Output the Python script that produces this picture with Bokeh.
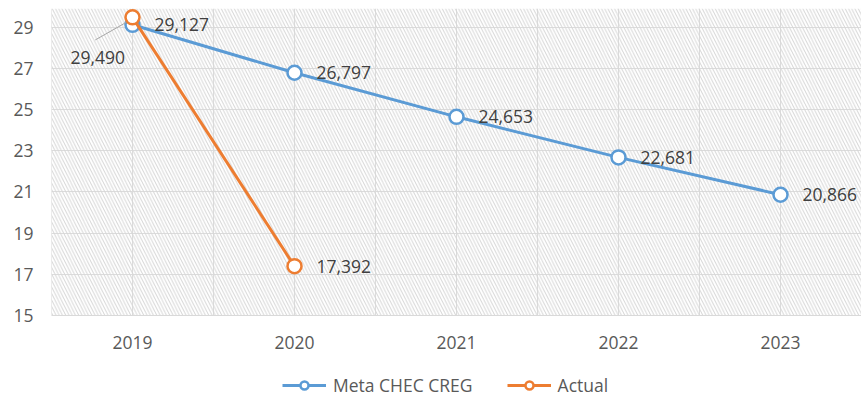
from bokeh.plotting import figure
from bokeh.models import (ColumnDataSource, LabelSet, BoxAnnotation, FixedTicker,
                          Legend, Range1d, Segment)
from bokeh.embed import file_html
from bokeh.resources import INLINE
from bokeh.core.properties import value

years = [2019, 2020, 2021, 2022, 2023]
year_labels = ["2019", "2020", "2021", "2022", "2023"]
meta = [29.127, 26.797, 24.653, 22.681, 20.866]
actual_years = [2019, 2020]
actual = [29.490, 17.392]
y_ticks = [15, 17, 19, 21, 23, 25, 27, 29]

BLUE = "#5B9BD5"
ORANGE = "#ED7D31"
FONT = "Open Sans"
TXT = "#404040"
FS = "17.5px"
Y_TOP = 29.92
Y_BOTTOM = 10.86  # extra space below the axis holds tick labels and legend

def fmt(v):
    return f"{v:.3f}".replace(".", ",")

x_lo, x_hi = years[0] - 0.5, years[-1] + 0.5
p = figure(width=861, height=400, output_backend="svg", toolbar_location=None,
           x_range=Range1d(x_lo, x_hi), y_range=Range1d(Y_BOTTOM, Y_TOP),
           min_border_left=51, min_border_right=0, min_border_top=8, min_border_bottom=0)
p.outline_line_color = None
p.background_fill_color = "white"

# hatched plot area
p.add_layout(BoxAnnotation(bottom=y_ticks[0], fill_alpha=0, line_color=None,
                           hatch_pattern="\\", hatch_color="#d6d6d6", hatch_scale=6.5,
                           hatch_weight=1, level="underlay"))

# vertical grid lines (category centres and boundaries)
gx = [x_lo + 0.5 * i for i in range(2 * len(years) + 1)]
p.segment(x0=gx, x1=gx, y0=[y_ticks[0]] * len(gx), y1=[Y_TOP] * len(gx),
          line_color="#dcdcdc", line_width=1, level="underlay")
p.xgrid.grid_line_color = None
p.ygrid.grid_line_color = "#dcdcdc"
p.ygrid.ticker = FixedTicker(ticks=y_ticks)

# axes
p.xaxis.ticker = FixedTicker(ticks=years)
p.xaxis.major_label_overrides = {y: l for y, l in zip(years, year_labels)}
p.xaxis.fixed_location = y_ticks[0]
p.yaxis.ticker = FixedTicker(ticks=y_ticks)
for ax in (p.xaxis[0], p.yaxis[0]):
    ax.major_tick_line_color = None
    ax.minor_tick_line_color = None
    ax.major_label_text_font = FONT
    ax.major_label_text_font_size = FS
    ax.major_label_text_color = "#595959"
p.xaxis.axis_line_color = "#d9d9d9"
p.xaxis.major_label_standoff = 15
p.yaxis.axis_line_color = None
p.yaxis.major_label_standoff = 12

src_m = ColumnDataSource(dict(x=years, y=meta, t=[fmt(v) for v in meta]))
src_a = ColumnDataSource(dict(x=actual_years, y=actual, t=[fmt(v) for v in actual]))

lm = p.line("x", "y", source=src_m, line_color=BLUE, line_width=3)
sm = p.scatter("x", "y", source=src_m, size=14, fill_color="white",
               line_color=BLUE, line_width=2.5)
la = p.line("x", "y", source=src_a, line_color=ORANGE, line_width=3)
sa = p.scatter("x", "y", source=src_a, size=14, fill_color="white",
               line_color=ORANGE, line_width=2.5)

# data labels
p.add_layout(LabelSet(x="x", y="y", text="t", source=src_m, x_offset=22, y_offset=0,
                      text_baseline="middle", text_font=value(FONT),
                      text_font_size=FS, text_color=TXT))
src_a2 = ColumnDataSource(dict(x=actual_years[1:], y=actual[1:], t=[fmt(v) for v in actual[1:]]))
p.add_layout(LabelSet(x="x", y="y", text="t", source=src_a2, x_offset=22, y_offset=0,
                      text_baseline="middle", text_font=value(FONT),
                      text_font_size=FS, text_color=TXT))
src_a1 = ColumnDataSource(dict(x=actual_years[:1], y=actual[:1], t=[fmt(actual[0])]))
p.add_layout(LabelSet(x="x", y="y", text="t", source=src_a1, x_offset=-62, y_offset=-40,
                      text_baseline="middle", text_font=value(FONT),
                      text_font_size=FS, text_color=TXT))
# leader line for the first actual label
lead = ColumnDataSource(dict(x0=[actual_years[0] - 0.23], y0=[actual[0] - 1.1],
                             x1=[actual_years[0] - 0.04], y1=[actual[0] - 0.25]))
p.add_glyph(lead, Segment(x0="x0", y0="y0", x1="x1", y1="y1",
                          line_color="#a6a6a6", line_width=1))

legend = Legend(items=[("Meta CHEC CREG", [lm, sm]), ("Actual", [la, sa])],
                orientation="horizontal", location=(231, 3),
                label_text_font=FONT, label_text_font_size=FS,
                label_text_color="#595959", border_line_color=None,
                background_fill_alpha=0, glyph_width=44, glyph_height=20,
                label_standoff=7, spacing=34, margin=0, padding=0)
p.add_layout(legend)

open("out.html", "w").write(file_html(p, INLINE))
